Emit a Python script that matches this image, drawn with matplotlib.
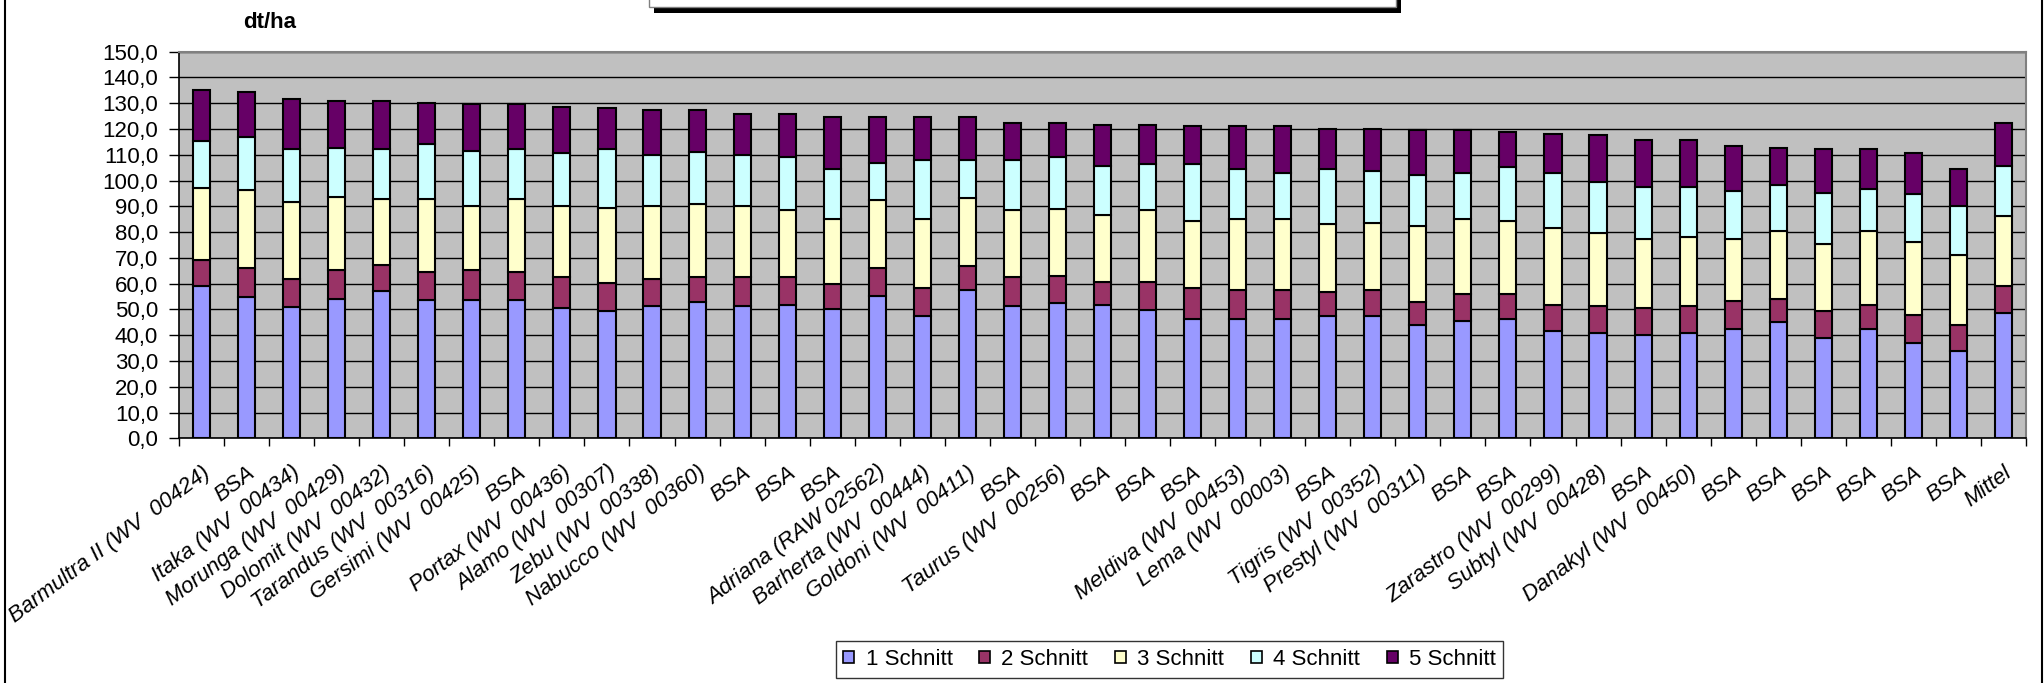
import matplotlib
matplotlib.use("Agg")
import matplotlib.pyplot as plt
from matplotlib.patches import Rectangle, Patch
from matplotlib.lines import Line2D
from matplotlib.ticker import FuncFormatter, FixedLocator
import numpy as np

plt.rcParams['font.family'] = ['Liberation Sans', 'DejaVu Sans']

# Sorten / Prüfglieder
sorten = [
    "Barmultra II (WV  00424)", "BSA", "Itaka (WV  00434)", "Morunga (WV  00429)",
    "Dolomit (WV  00432)", "Tarandus (WV  00316)", "Gersimi (WV  00425)", "BSA",
    "Portax (WV  00436)", "Alamo (WV  00307)", "Zebu (WV  00338)", "Nabucco (WV  00360)",
    "BSA", "BSA", "BSA", "Adriana (RAW 02562)", "Barherta (WV  00444)",
    "Goldoni (WV  00411)", "BSA", "Taurus (WV  00256)", "BSA", "BSA", "BSA",
    "Meldiva (WV  00453)", "Lema (WV  00003)", "BSA", "Tigris (WV  00352)",
    "Prestyl (WV  00311)", "BSA", "BSA", "Zarastro (WV  00299)", "Subtyl (WV  00428)",
    "BSA", "Danakyl (WV  00450)", "BSA", "BSA", "BSA", "BSA", "BSA", "BSA", "Mittel",
]

# Trockenmasseertrag je Schnitt (dt/ha)
schnitt_1 = [59.0, 54.8, 50.9, 54.2, 57.0, 53.6, 53.6, 53.6, 50.6, 49.2, 51.3, 52.7,
             51.2, 51.9, 50.0, 55.4, 47.3, 57.4, 51.2, 52.5, 51.6, 49.8, 46.4, 46.4,
             46.4, 47.3, 47.3, 43.8, 45.6, 46.4, 41.5, 40.8, 40.2, 40.8, 42.3, 45.0,
             38.9, 42.3, 36.8, 34.0, 48.5]
schnitt_2 = [10.2, 11.1, 10.9, 11.1, 10.2, 11.1, 11.6, 11.1, 12.0, 11.1, 10.5, 9.9,
             11.3, 10.6, 9.9, 10.5, 11.0, 9.6, 11.3, 10.6, 9.2, 11.0, 11.8, 11.2,
             11.2, 9.5, 10.3, 9.0, 10.5, 9.7, 10.4, 10.4, 10.5, 10.4, 11.1, 9.1,
             10.4, 9.6, 11.2, 9.8, 10.4]
schnitt_3 = [27.8, 30.5, 29.9, 28.4, 25.7, 28.2, 25.1, 28.2, 27.7, 29.1, 28.5, 28.2,
             27.5, 25.9, 25.3, 26.7, 26.6, 26.3, 25.9, 26.0, 25.7, 27.6, 26.1, 27.3,
             27.3, 26.2, 26.0, 29.4, 28.8, 28.3, 29.6, 28.4, 26.8, 27.0, 24.1, 26.2,
             26.2, 28.4, 28.1, 27.5, 27.4]
schnitt_4 = [18.5, 20.6, 20.4, 19.1, 19.2, 21.3, 21.2, 19.2, 20.3, 22.7, 19.8, 20.1,
             19.8, 20.8, 19.2, 14.4, 23.0, 14.6, 19.5, 20.1, 19.3, 17.9, 22.0, 19.5,
             17.9, 21.4, 20.0, 20.1, 17.9, 20.7, 21.3, 19.8, 19.9, 19.2, 18.6, 17.8,
             19.8, 16.4, 18.5, 18.7, 19.5]
schnitt_5 = [19.5, 17.4, 19.4, 18.2, 18.9, 16.0, 18.1, 17.5, 18.1, 16.2, 17.4, 16.6,
             16.2, 16.8, 20.1, 17.5, 16.6, 16.6, 14.6, 13.3, 15.9, 15.4, 14.7, 16.6,
             18.2, 15.8, 16.6, 17.4, 16.9, 13.8, 15.4, 18.2, 18.2, 18.2, 17.3, 14.7,
             16.8, 15.4, 16.1, 14.6, 16.7]

serien = ["1 Schnitt", "2 Schnitt", "3 Schnitt", "4 Schnitt", "5 Schnitt"]
farben = ["#9999FF", "#993366", "#FFFFCC", "#CCFFFF", "#660066"]

W, H = 2044, 683
fig = plt.figure(figsize=(W / 100, H / 100), dpi=100)
fig.patch.set_facecolor("white")

def fx(px):
    return px / W

def fy(py):
    return 1 - py / H

ax = fig.add_axes([fx(179), fy(438.3), fx(2026) - fx(179), (438.3 - 51.7) / H])
ax.set_facecolor("#C0C0C0")

x = np.arange(len(sorten))
bottom = np.zeros(len(sorten))
for werte, farbe in zip([schnitt_1, schnitt_2, schnitt_3, schnitt_4, schnitt_5], farben):
    werte = np.array(werte)
    ax.bar(x, werte, bottom=bottom, width=0.38, color=farbe,
           edgecolor="black", linewidth=1.5, zorder=3)
    bottom += werte

ax.set_xlim(-0.5, len(sorten) - 0.5)
ax.set_ylim(0, 150)

ax.yaxis.set_major_locator(FixedLocator(np.arange(0, 151, 10)))
ax.yaxis.set_major_formatter(FuncFormatter(lambda v, p: f"{v:.1f}".replace(".", ",")))
ax.grid(axis="y", color="black", linewidth=1.0, zorder=1)
ax.set_axisbelow(True)

# Teilstriche an den Kategoriegrenzen, Beschriftung in der Mitte
ax.xaxis.set_major_locator(FixedLocator(np.arange(-0.5, len(sorten), 1.0)))
ax.xaxis.set_major_formatter(FuncFormatter(lambda v, p: ""))
ax.xaxis.set_minor_locator(FixedLocator(x))
ax.set_xticklabels(sorten, minor=True, rotation=37, ha="right",
                   rotation_mode="anchor", fontsize=16, fontstyle="italic")
ax.tick_params(axis="x", which="major", direction="out", length=6, width=1, color="black")
ax.tick_params(axis="x", which="minor", length=0, pad=17)
ax.tick_params(axis="y", direction="out", length=7, width=1, color="black",
               labelsize=16, pad=8)

for side in ["left", "bottom"]:
    ax.spines[side].set_color("black")
    ax.spines[side].set_linewidth(1.2)
for side in ["top", "right"]:
    ax.spines[side].set_color("#808080")
    ax.spines[side].set_linewidth(1.5)

fig.text(fx(270), fy(23), "dt/ha", fontsize=16, fontweight="bold",
         ha="center", va="center")

# Titelkasten oben mit Schatten
fig.add_artist(Rectangle((fx(654), fy(13)), fx(1401) - fx(654), 13 / H,
                         transform=fig.transFigure, facecolor="black",
                         edgecolor="none"))
fig.add_artist(Rectangle((fx(649), fy(7)), fx(1396) - fx(649), 10 / H,
                         transform=fig.transFigure, facecolor="white",
                         edgecolor="#808080", linewidth=1))

# Rahmen des Diagrammbereichs
for xp in [5, 2041.5]:
    fig.add_artist(Line2D([fx(xp), fx(xp)], [0, 1], transform=fig.transFigure,
                          color="black", linewidth=1.5))

handles = [Patch(facecolor=c, edgecolor="black", linewidth=1.2) for c in farben]
leg = fig.legend(handles, serien, loc="center", bbox_to_anchor=(fx(1169.5), fy(659.5)),
                 ncol=5, fontsize=16, frameon=True, fancybox=False,
                 handlelength=0.5, handleheight=0.5, handletextpad=0.5,
                 columnspacing=1.2, borderpad=0.35, borderaxespad=0)
leg.get_frame().set_edgecolor("black")
leg.get_frame().set_linewidth(1.0)

fig.savefig("out.png", dpi=100)
